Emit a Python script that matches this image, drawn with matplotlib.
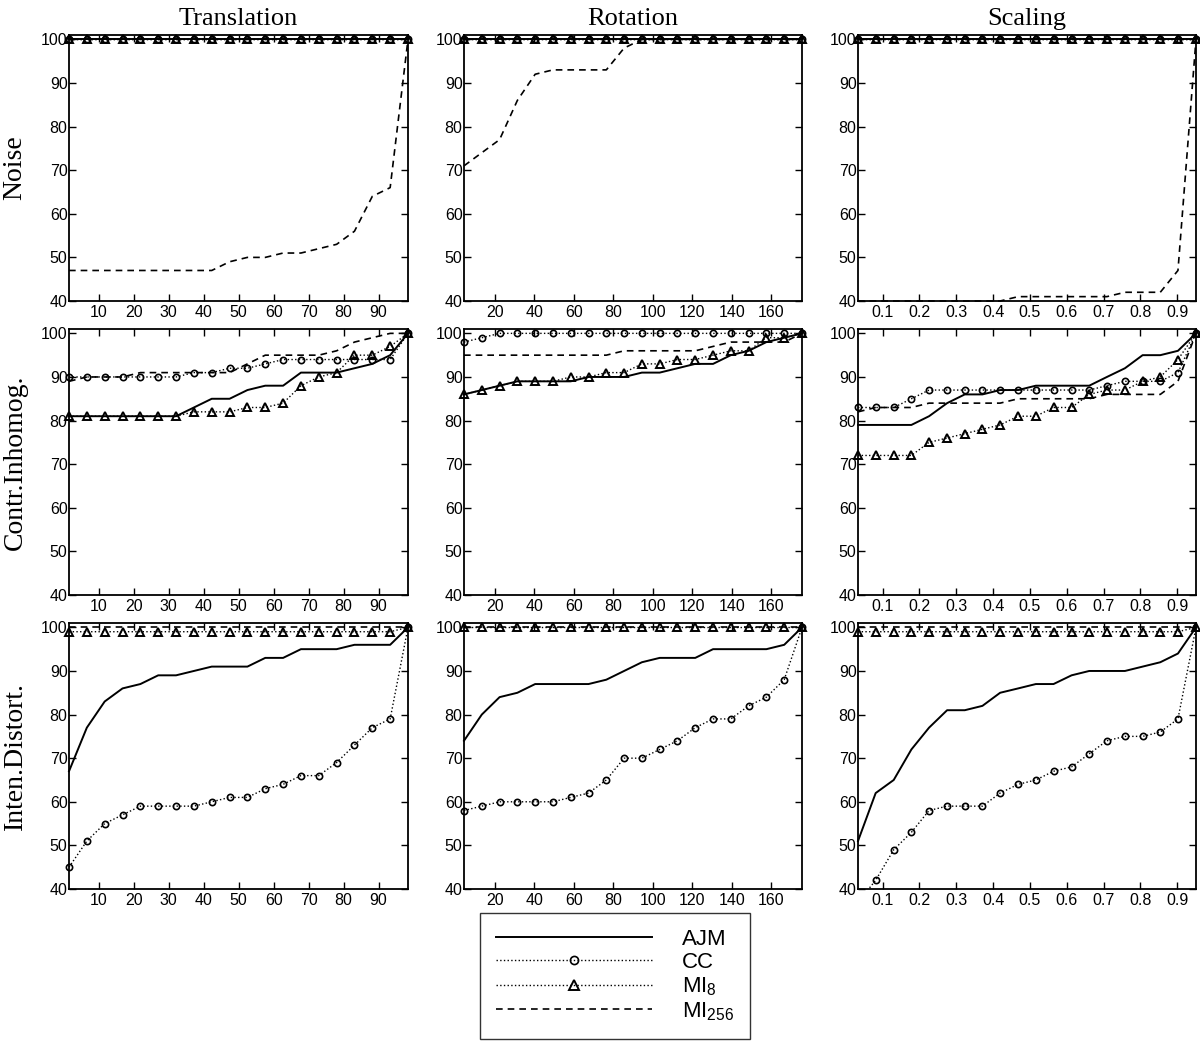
import numpy as np
import matplotlib
matplotlib.use('Agg')
from matplotlib import pyplot as plt

plt.rcParams['font.family'] = ['Liberation Sans', 'DejaVu Sans']
plt.rcParams['mathtext.default'] = 'regular'

# x positions of the 20 samples in each column
trans_x = [1.5, 6.6, 11.7, 16.8, 21.9, 27.0, 32.1, 37.2, 42.3, 47.4,
           52.5, 57.6, 62.7, 67.8, 72.9, 78.0, 83.1, 88.2, 93.3, 98.4]
rot_x = [4.5, 13.5, 22.5, 31.5, 40.5, 49.5, 58.5, 67.5, 76.5, 85.5,
         94.5, 103.5, 112.5, 121.5, 130.5, 139.5, 148.5, 157.5, 166.5, 175.5]
scale_x = [0.033, 0.081, 0.130, 0.178, 0.226, 0.275, 0.323, 0.371, 0.419, 0.468,
           0.516, 0.564, 0.613, 0.661, 0.709, 0.758, 0.806, 0.854, 0.902, 0.951]

trans_ticks = [10, 20, 30, 40, 50, 60, 70, 80, 90]
rot_ticks = [20, 40, 60, 80, 100, 120, 140, 160]
scale_ticks = [0.1, 0.2, 0.3, 0.4, 0.5, 0.6, 0.7, 0.8, 0.9]

col_titles = ['Translation', 'Rotation', 'Scaling']
row_titles = ['Noise', 'Contr.Inhomog.', 'Inten.Distort.']
methods = ['AJM', 'CC', 'MI$_{8}$', 'MI$_{256}$']

# ---- Noise ----
tn_ajm = [100] * 20
tn_cc = [100] * 20
tn_mi8 = [100] * 20
tn_mi256 = [47, 47, 47, 47, 47, 47, 47, 47, 47, 49, 50, 50, 51, 51, 52, 53, 56, 64, 66, 100]

rn_ajm = [100] * 20
rn_cc = [100] * 20
rn_mi8 = [100] * 20
rn_mi256 = [71, 74, 77, 86, 92, 93, 93, 93, 93, 98, 100, 100, 100, 100, 100, 100, 100, 100, 100, 100]

sn_ajm = [100] * 20
sn_cc = [100] * 20
sn_mi8 = [100] * 20
sn_mi256 = [40, 40, 40, 40, 40, 40, 40, 40, 40, 41, 41, 41, 41, 41, 41, 42, 42, 42, 47, 100]

# ---- Contrast inhomogeneity ----
tc_ajm = [81, 81, 81, 81, 81, 81, 81, 83, 85, 85, 87, 88, 88, 91, 91, 91, 92, 93, 95, 100]
tc_cc = [90, 90, 90, 90, 90, 90, 90, 91, 91, 92, 92, 93, 94, 94, 94, 94, 94, 94, 94, 100]
tc_mi8 = [81, 81, 81, 81, 81, 81, 81, 82, 82, 82, 83, 83, 84, 88, 90, 91, 95, 95, 97, 100]
tc_mi256 = [89, 90, 90, 90, 91, 91, 91, 91, 91, 91, 93, 95, 95, 95, 95, 96, 98, 99, 100, 100]

rc_ajm = [86, 87, 88, 89, 89, 89, 89, 90, 90, 90, 91, 91, 92, 93, 93, 95, 96, 98, 99, 100]
rc_cc = [98, 99, 100, 100, 100, 100, 100, 100, 100, 100, 100, 100, 100, 100, 100, 100, 100, 100, 100, 100]
rc_mi8 = [86, 87, 88, 89, 89, 89, 90, 90, 91, 91, 93, 93, 94, 94, 95, 96, 96, 99, 99, 100]
rc_mi256 = [95, 95, 95, 95, 95, 95, 95, 95, 95, 96, 96, 96, 96, 96, 97, 98, 98, 98, 98, 100]

sc_ajm = [79, 79, 79, 79, 81, 84, 86, 86, 87, 87, 88, 88, 88, 88, 90, 92, 95, 95, 96, 100]
sc_cc = [83, 83, 83, 85, 87, 87, 87, 87, 87, 87, 87, 87, 87, 87, 88, 89, 89, 89, 91, 100]
sc_mi8 = [72, 72, 72, 72, 75, 76, 77, 78, 79, 81, 81, 83, 83, 86, 87, 87, 89, 90, 94, 100]
sc_mi256 = [82, 83, 83, 83, 84, 84, 84, 84, 84, 85, 85, 85, 85, 85, 86, 86, 86, 86, 89, 100]

# ---- Intensity distortion ----
ti_ajm = [67, 77, 83, 86, 87, 89, 89, 90, 91, 91, 91, 93, 93, 95, 95, 95, 96, 96, 96, 100]
ti_cc = [45, 51, 55, 57, 59, 59, 59, 59, 60, 61, 61, 63, 64, 66, 66, 69, 73, 77, 79, 100]
ti_mi8 = [99] * 19 + [100]
ti_mi256 = [100] * 20

ri_ajm = [74, 80, 84, 85, 87, 87, 87, 87, 88, 90, 92, 93, 93, 93, 95, 95, 95, 95, 96, 100]
ri_cc = [58, 59, 60, 60, 60, 60, 61, 62, 65, 70, 70, 72, 74, 77, 79, 79, 82, 84, 88, 100]
ri_mi8 = [100] * 20
ri_mi256 = [100] * 20

si_ajm = [51, 62, 65, 72, 77, 81, 81, 82, 85, 86, 87, 87, 89, 90, 90, 90, 91, 92, 94, 100]
si_cc = [37, 42, 49, 53, 58, 59, 59, 59, 62, 64, 65, 67, 68, 71, 74, 75, 75, 76, 79, 100]
si_mi8 = [99] * 19 + [100]
si_mi256 = [100] * 20

panels = [
  [(tn_ajm, tn_cc, tn_mi8, tn_mi256), (rn_ajm, rn_cc, rn_mi8, rn_mi256), (sn_ajm, sn_cc, sn_mi8, sn_mi256)],
  [(tc_ajm, tc_cc, tc_mi8, tc_mi256), (rc_ajm, rc_cc, rc_mi8, rc_mi256), (sc_ajm, sc_cc, sc_mi8, sc_mi256)],
  [(ti_ajm, ti_cc, ti_mi8, ti_mi256), (ri_ajm, ri_cc, ri_mi8, ri_mi256), (si_ajm, si_cc, si_mi8, si_mi256)],
]
xs = [trans_x, rot_x, scale_x]
xticks = [trans_ticks, rot_ticks, scale_ticks]

styles = [
  dict(ls='-', lw=1.4, marker=None),
  dict(ls=':', lw=1.0, marker='o', ms=4.5, mfc='none', mew=1.2),
  dict(ls=':', lw=1.0, marker='^', ms=5.5, mfc='none', mew=1.4),
  dict(ls=(0, (4, 3)), lw=1.2, marker=None),
]

W, H = 1200.0, 1041.0
cols = [(69, 408), (464, 802), (858, 1196)]
rows = [(35, 301), (329, 595), (623, 889)]


def main():
  fig = plt.figure(figsize=(12, 10.41), dpi=100)
  handles = []
  for r in range(3):
    for c in range(3):
      l, rr = cols[c]
      t, b = rows[r]
      ax = fig.add_axes([l / W, 1 - b / H, (rr - l) / W, (b - t) / H])
      x = xs[c]
      handles = []
      for vals, st in zip(panels[r][c], styles):
        clip = min(vals) < 40
        h, = ax.plot(x, vals, color='black', clip_on=clip, **st)
        handles.append(h)
      ax.set_xlim(x[0], x[-1])
      ax.set_ylim(40, 101)
      ax.set_yticks([40, 50, 60, 70, 80, 90, 100])
      ax.set_xticks(xticks[c])
      if c == 2:
        ax.set_xticklabels(['%.1f' % v for v in xticks[c]])
      ax.tick_params(direction='in', top=True, right=True, length=5,
                     width=1, labelsize=11.5, pad=3)
      ax.tick_params(axis='y', pad=1)
      for s in ax.spines.values():
        s.set_linewidth(1.3)
      if r == 0:
        ax.set_title(col_titles[c], family='Liberation Serif', fontsize=19, pad=7)
      if c == 0:
        fig.text(15 / W, 1 - (t + b) / 2 / H, row_titles[r], rotation=90,
                 family='Liberation Serif', fontsize=20, ha='center', va='center')

  leg = fig.legend(handles, methods, loc='upper left',
                   bbox_to_anchor=(480 / W, 1 - 913 / H), borderaxespad=0,
                   fontsize=16, handlelength=7.0, handletextpad=1.35,
                   labelspacing=0.1, borderpad=0.72, fancybox=False,
                   edgecolor='black', numpoints=1, markerscale=1.3)
  leg.get_frame().set_linewidth(1.0)

  plt.savefig('out.png', dpi=100)


if __name__ == '__main__':
  main()
